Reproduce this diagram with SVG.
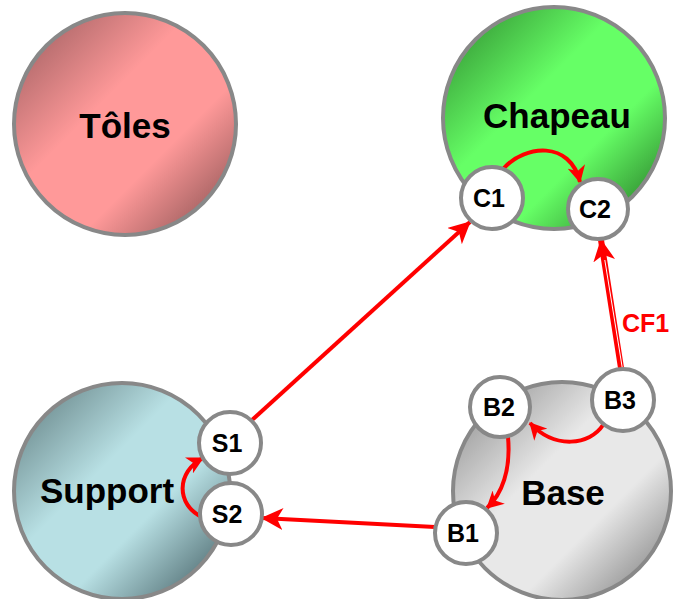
<svg xmlns="http://www.w3.org/2000/svg" width="673" height="599" viewBox="0 0 673 599">
<style>
.big{stroke:#888;stroke-width:4}
.port{fill:#fff;stroke:#888;stroke-width:4}
.bl{font-family:"Liberation Sans",Arial,sans-serif;font-weight:bold;font-size:35px;fill:#000;text-anchor:middle}
.pl{font-family:"Liberation Sans",Arial,sans-serif;font-weight:bold;font-size:25px;fill:#000;text-anchor:middle}
.edge{fill:none;stroke:#f00;stroke-width:4}
.cl{font-family:"Liberation Sans",Arial,sans-serif;font-weight:bold;font-size:25px;fill:#f00}
</style>
<defs>
<linearGradient id="gT" x1="0" y1="0" x2="1" y2="1">
<stop offset="0" stop-color="#94585a"/><stop offset="0.4" stop-color="#ff9999"/><stop offset="0.65" stop-color="#ff9999"/><stop offset="0.88" stop-color="#a86464"/><stop offset="1" stop-color="#bc7070"/>
</linearGradient>
<linearGradient id="gC" x1="0" y1="0" x2="1" y2="1">
<stop offset="0" stop-color="#2c842c"/><stop offset="0.4" stop-color="#66ff66"/><stop offset="0.65" stop-color="#66ff66"/><stop offset="0.88" stop-color="#369a36"/><stop offset="1" stop-color="#42ac42"/>
</linearGradient>
<linearGradient id="gS" x1="0" y1="0" x2="1" y2="1">
<stop offset="0" stop-color="#5a7679"/><stop offset="0.4" stop-color="#b8e0e4"/><stop offset="0.62" stop-color="#b8e0e4"/><stop offset="0.86" stop-color="#66858a"/><stop offset="1" stop-color="#7a999c"/>
</linearGradient>
<linearGradient id="gB" x1="0" y1="0" x2="1" y2="1">
<stop offset="0" stop-color="#848484"/><stop offset="0.4" stop-color="#e8e8e8"/><stop offset="0.65" stop-color="#e8e8e8"/><stop offset="0.88" stop-color="#9a9a9a"/><stop offset="1" stop-color="#ababab"/>
</linearGradient>
<marker id="ah" viewBox="0 -11 22 22" refX="21" refY="0" markerWidth="22" markerHeight="22" markerUnits="userSpaceOnUse" orient="auto">
<path d="M0,-11 L22,0 L0,11 L6,0 z" fill="#f00"/>
</marker>
<marker id="ahs" viewBox="0 -9 17 18" refX="16" refY="0" markerWidth="17" markerHeight="18" markerUnits="userSpaceOnUse" orient="auto">
<path d="M0,-9 L17,0 L0,9 L5,0 z" fill="#f00"/>
</marker>
</defs>

<g id="toles"><circle cx="125" cy="124" r="111" fill="url(#gT)" class="big"/><text x="125" y="138" class="bl">Tôles</text></g>
<g id="chapeau"><circle cx="554" cy="118" r="111" fill="url(#gC)" class="big"/><text x="557" y="128" class="bl">Chapeau</text></g>
<g id="support"><circle cx="122" cy="491" r="108" fill="url(#gS)" class="big"/><text x="107" y="503" class="bl">Support</text></g>
<g id="base"><circle cx="562" cy="491" r="109" fill="url(#gB)" class="big"/><text x="563" y="505" class="bl">Base</text></g>

<g id="connectors">
<line x1="252" y1="420" x2="470" y2="222" class="edge" marker-end="url(#ah)"/>
<line x1="435" y1="527" x2="262" y2="518" class="edge" marker-end="url(#ah)"/>
<line x1="621" y1="368" x2="601" y2="240" class="edge" style="stroke-width:6" marker-end="url(#ah)"/>
<line x1="622.3" y1="368" x2="604.8" y2="260" stroke="#fff" stroke-width="1"/>
<path d="M504,168 C525,145 570,140 580,182" class="edge" marker-end="url(#ahs)"/>
<path d="M603,425 C590,445 555,450 530,423" class="edge" marker-end="url(#ahs)"/>
<path d="M508,437 C511,470 502,494 487,508" class="edge" marker-end="url(#ahs)"/>
<path d="M202,517 C176,505 176,472 203,458" class="edge" marker-end="url(#ahs)"/>
<text x="622" y="332" class="cl">CF1</text>
</g>

<g id="C1"><circle cx="492" cy="198" r="31" class="port"/><text x="489" y="207" class="pl">C1</text></g>
<g id="C2"><circle cx="598" cy="209" r="30" class="port"/><text x="595" y="218" class="pl">C2</text></g>
<g id="S1"><circle cx="230" cy="443" r="31" class="port"/><text x="227" y="452" class="pl">S1</text></g>
<g id="S2"><circle cx="231" cy="514" r="31" class="port"/><text x="227" y="523" class="pl">S2</text></g>
<g id="B1"><circle cx="466" cy="533" r="31" class="port"/><text x="463" y="542" class="pl">B1</text></g>
<g id="B2"><circle cx="500" cy="407" r="30" class="port"/><text x="499" y="416" class="pl">B2</text></g>
<g id="B3"><circle cx="623" cy="400" r="31" class="port"/><text x="620" y="409" class="pl">B3</text></g>
</svg>
